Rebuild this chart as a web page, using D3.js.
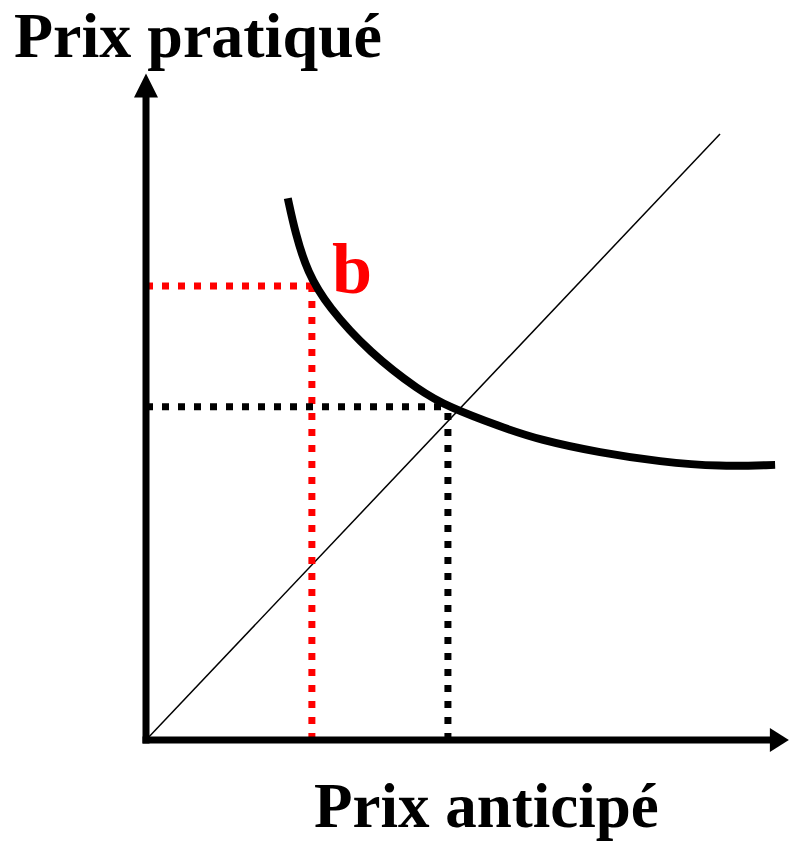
<!DOCTYPE html>
<html>
<head>
<meta charset="utf-8">
<script src="https://cdn.jsdelivr.net/npm/d3@7"></script>
<style>
  html, body { margin: 0; padding: 0; background: #fff; }
  svg { display: block; }
  text { font-family: "Liberation Serif", "Times New Roman", serif; font-weight: bold; }
</style>
</head>
<body>
<div id="chart"></div>
<script>
// courbe (prix anticipé -> prix pratiqué)
const curveX = [2.47, 2.60, 2.81, 3.17, 3.90, 4.77, 5.26, 6.17, 6.86, 7.91, 8.96, 10.00, 10.96];
const curveY = [8.94, 8.37, 7.72, 7.15, 6.39, 5.76, 5.50, 5.17, 4.95, 4.74, 4.59, 4.51, 4.54];

// droite à 45°
const diagX = [0, 10];
const diagY = [0, 10];

// pointillés de lecture : b, puis l'équilibre
const guideLabels = ["b", ""];
const guideX = [2.89, 5.26];
const guideY = [7.49, 5.50];

const axisMax = { x: 11.2, y: 11 };
const titleY = "Prix pratiqué";
const titleX = "Prix anticipé";

const width = 789, height = 842;

const svg = d3.select("#chart").append("svg")
    .attr("width", width)
    .attr("height", height);

const x = d3.scaleLinear().domain([0, 10]).range([146, 720]);
const y = d3.scaleLinear().domain([0, 10]).range([740, 134]);

// diagonale
svg.append("line")
    .attr("x1", x(diagX[0])).attr("y1", y(diagY[0]))
    .attr("x2", x(diagX[1])).attr("y2", y(diagY[1]))
    .attr("stroke", "#000")
    .attr("stroke-width", 1.5);

// pointillés
const guideColor = ["#ff0000", "#000"];
guideX.forEach((gx, i) => {
    const g = svg.append("g")
        .attr("stroke", guideColor[i])
        .attr("stroke-width", 7)
        .attr("stroke-dasharray", "7,9");
    g.append("line")
        .attr("x1", x(0)).attr("y1", y(guideY[i]))
        .attr("x2", x(gx)).attr("y2", y(guideY[i]));
    g.append("line")
        .attr("x1", x(gx)).attr("y1", y(0))
        .attr("x2", x(gx)).attr("y2", y(guideY[i]));
});

// courbe
const line = d3.line()
    .x(d => x(d[0]))
    .y(d => y(d[1]))
    .curve(d3.curveBasis);

svg.append("path")
    .datum(curveX.map((v, i) => [v, curveY[i]]))
    .attr("d", line)
    .attr("fill", "none")
    .attr("stroke", "#000")
    .attr("stroke-width", 8);

// axes
const ax = svg.append("g");
ax.append("line")
    .attr("x1", x(0)).attr("y1", y(0) + 3.5)
    .attr("x2", x(0)).attr("y2", y(axisMax.y) + 22)
    .attr("stroke", "#000").attr("stroke-width", 7);
ax.append("line")
    .attr("x1", x(0) - 3.5).attr("y1", y(0))
    .attr("x2", x(axisMax.x) - 18).attr("y2", y(0))
    .attr("stroke", "#000").attr("stroke-width", 7);

// têtes de flèche
const tipY = [x(0), y(axisMax.y)];
ax.append("path")
    .attr("d", `M${tipY[0]},${tipY[1]} L${tipY[0] + 12},${tipY[1] + 24} L${tipY[0] - 12},${tipY[1] + 24}Z`)
    .attr("fill", "#000");
const tipX = [x(axisMax.x), y(0)];
ax.append("path")
    .attr("d", `M${tipX[0]},${tipX[1]} L${tipX[0] - 19},${tipX[1] - 12} L${tipX[0] - 19},${tipX[1] + 12}Z`)
    .attr("fill", "#000");

// textes
svg.append("text")
    .attr("x", 14).attr("y", 57)
    .attr("font-size", 64)
    .text(titleY);

svg.append("text")
    .attr("x", 314).attr("y", 827)
    .attr("font-size", 63)
    .text(titleX);

guideLabels.forEach((lab, i) => {
    if (!lab) return;
    svg.append("text")
        .attr("x", x(guideX[i]) + 20)
        .attr("y", y(guideY[i]) + 7)
        .attr("font-size", 72)
        .attr("fill", guideColor[i])
        .text(lab);
});
</script>
</body>
</html>
